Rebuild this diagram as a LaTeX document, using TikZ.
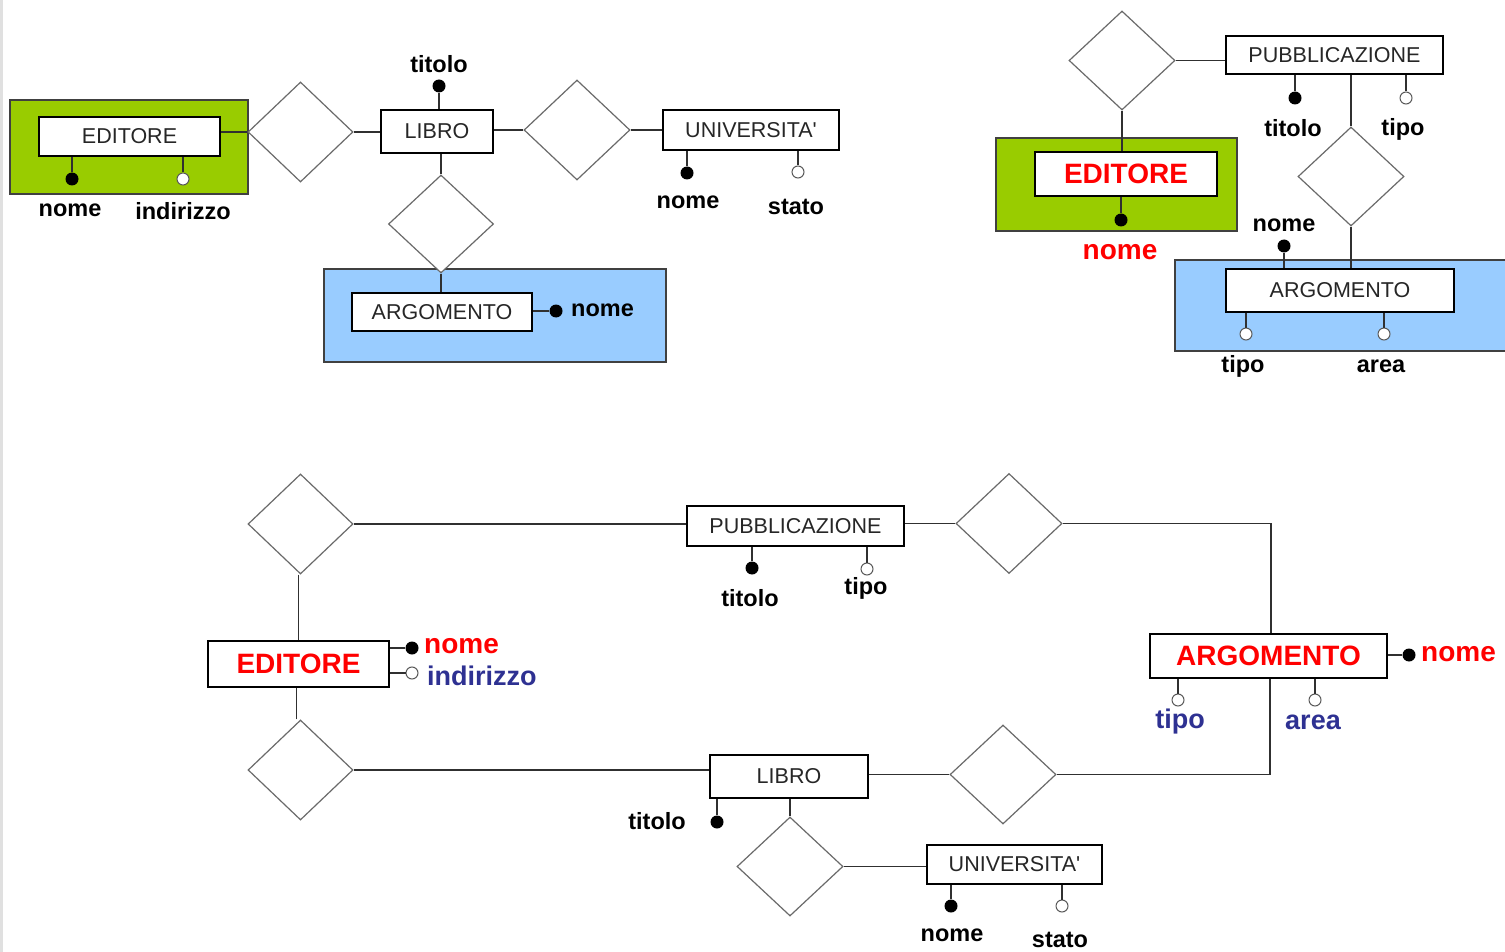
\documentclass[tikz,border=0pt]{standalone}
\usepackage{fontspec}
\setmainfont{Liberation Sans}
\usetikzlibrary{shapes.geometric}
\definecolor{grn}{HTML}{99CC00}
\definecolor{blu}{HTML}{99CCFF}
\definecolor{rd}{HTML}{FF0000}
\definecolor{nv}{HTML}{2E3192}
\definecolor{edge}{HTML}{303030}
\definecolor{relc}{HTML}{6A6A6A}
\newcommand{\univ}{UNIVERSITA\textquotesingle}
\begin{document}
\begin{tikzpicture}[x=1pt,y=-1pt,
  ent/.style={draw=black,line width=1.2pt,fill=white,inner sep=0pt,
    font=\fontsize{21.5}{24}\selectfont,text=black!85},
  strong/.style={ent,font=\fontsize{28}{32}\selectfont\bfseries,text=rd},
  rel/.style={diamond,draw=relc,line width=1.2pt,fill=white,inner sep=0pt},
  key/.style={circle,fill=black,minimum size=13pt,inner sep=0pt},
  opt/.style={circle,draw=black!65,fill=white,line width=1pt,minimum size=12pt,inner sep=0pt},
  lab/.style={font=\fontsize{23.5}{26}\selectfont\bfseries,inner sep=0pt},
  redlab/.style={font=\fontsize{28}{30}\selectfont\bfseries,text=rd,inner sep=0pt},
  bluelab/.style={font=\fontsize{27}{30}\selectfont\bfseries,text=nv,inner sep=0pt},
  conn/.style={draw=edge,line width=1.2pt},
  group/.style={draw=black!75,line width=1.3pt}]
\useasboundingbox (0,0) rectangle (1505,952);
\fill[white] (0,0) rectangle (1505,952);
\draw[black!12,line width=3pt] (1.5,0) -- (1.5,952);

% ---------- top left: EDITORE / LIBRO / ARGOMENTO / UNIVERSITA'
\filldraw[group,fill=grn] (10,100) rectangle (248,194);
\filldraw[group,fill=blu] (324,269) rectangle (666,362);

\node[ent,minimum width=181pt,minimum height=39pt] (ed1) at (129.5,136.5) {EDITORE};
\node[key] (ed1n) at (72,179) {};
\node[opt] (ed1i) at (183,179) {};
\node[lab] (ed1nl) at (70,210) {nome};
\node[lab] (ed1il) at (183,211) {indirizzo};
\draw[conn] (ed1n) -- (ed1n |- ed1.south);
\draw[conn] (ed1i) -- (ed1i |- ed1.south);

\node[rel,minimum width=105pt,minimum height=100pt] (r1) at (300.5,132) {};
\node[ent,minimum width=112pt,minimum height=43pt] (lib1) at (437,131.5) {LIBRO};
\node[key] (lib1t) at (439,86) {};
\node[lab] (lib1tl) at (439,64) {titolo};
\draw[conn] (r1.west) -- (r1.west -| ed1.east);
\draw[conn] (r1.east) -- (r1.east -| lib1.west);
\draw[conn] (lib1t) -- (lib1t |- lib1.north);

\node[rel,minimum width=105pt,minimum height=98pt] (r2) at (441,224) {};
\node[ent,minimum width=180pt,minimum height=38pt] (arg1) at (442,312) {ARGOMENTO};
\node[key] (arg1n) at (556,311) {};
\node[lab,anchor=west] (arg1nl) at (571,310) {nome};
\draw[conn] (r2.north) -- (r2.north |- lib1.south);
\draw[conn] (r2.south) -- (r2.south |- arg1.north);
\draw[conn] (arg1n) -- (arg1n -| arg1.east);

\node[rel,minimum width=106pt,minimum height=100pt] (r3) at (577,130) {};
\node[ent,minimum width=176pt,minimum height=40pt] (uni1) at (751,130) {\univ};
\node[key] (uni1n) at (687,173) {};
\node[opt] (uni1s) at (798,172) {};
\node[lab] (uni1nl) at (688,202) {nome};
\node[lab] (uni1sl) at (796,207) {stato};
\draw[conn] (r3.west) -- (r3.west -| lib1.east);
\draw[conn] (r3.east) -- (uni1.west);
\draw[conn] (uni1n) -- (uni1n |- uni1.south);
\draw[conn] (uni1s) -- (uni1s |- uni1.south);

% ---------- top right: PUBBLICAZIONE / EDITORE / ARGOMENTO
\filldraw[group,fill=grn] (996,138) rectangle (1237,231);
\filldraw[group,fill=blu] (1175,260) rectangle (1512,351);

\node[rel,minimum width=106pt,minimum height=99pt] (rA) at (1122,60.5) {};
\node[ent,minimum width=217pt,minimum height=38pt] (pub1) at (1334.5,55) {PUBBLICAZIONE};
\node[key] (pub1t) at (1295,98) {};
\node[opt] (pub1p) at (1406,98) {};
\node[lab] (pub1tl) at (1293,128) {titolo};
\node[lab] (pub1pl) at (1403,129) {tipo};
\draw[conn] (rA.east) -- (rA.east -| pub1.west);
\draw[conn] (pub1t) -- (pub1t |- pub1.south);
\draw[conn] (pub1p) -- (pub1p |- pub1.south);

\node[strong,minimum width=182pt,minimum height=44pt] (ed2) at (1126,174) {EDITORE};
\node[key] (ed2n) at (1121,220) {};
\node[redlab] (ed2nl) at (1120,252) {nome};
\draw[conn] (rA.south) -- (rA.south |- ed2.north);
\draw[conn] (ed2n) -- (ed2n |- ed2.south);

\node[rel,minimum width=106pt,minimum height=99pt] (rB) at (1351,176.5) {};
\node[ent,minimum width=228pt,minimum height=43pt] (arg2) at (1340,290.5) {ARGOMENTO};
\node[key] (arg2n) at (1284,246) {};
\node[lab] (arg2nl) at (1284,225) {nome};
\node[opt] (arg2t) at (1246,334) {};
\node[opt] (arg2a) at (1384,334) {};
\node[lab] (arg2tl) at (1243,366) {tipo};
\node[lab] (arg2al) at (1381,366) {area};
\draw[conn] (rB.north) -- (rB.north |- pub1.south);
\draw[conn] (rB.south) -- (rB.south |- arg2.north);
\draw[conn] (arg2n) -- (arg2n |- arg2.north);
\draw[conn] (arg2t) -- (arg2t |- arg2.south);
\draw[conn] (arg2a) -- (arg2a |- arg2.south);

% ---------- bottom: restructured schema
\node[rel,minimum width=105pt,minimum height=100pt] (rC) at (300.5,524) {};
\node[ent,minimum width=217pt,minimum height=40pt] (pub2) at (795.5,526) {PUBBLICAZIONE};
\node[key] (pub2t) at (752,568) {};
\node[opt] (pub2p) at (867,569) {};
\node[lab] (pub2tl) at (750,598) {titolo};
\node[lab] (pub2pl) at (866,588) {tipo};
\draw[conn] (rC.east) -- (rC.east -| pub2.west);
\draw[conn] (pub2t) -- (pub2t |- pub2.south);
\draw[conn] (pub2p) -- (pub2p |- pub2.south);

\node[rel,minimum width=106pt,minimum height=100pt] (rD) at (1009,523.5) {};
\node[strong,minimum width=237pt,minimum height=44pt] (arg3) at (1268.5,656) {ARGOMENTO};
\node[key] (arg3n) at (1409,655) {};
\node[redlab,anchor=west] (arg3nl) at (1421,654) {nome};
\node[opt] (arg3t) at (1178,700) {};
\node[opt] (arg3a) at (1315,700) {};
\node[bluelab] (arg3tl) at (1180,722) {tipo};
\node[bluelab] (arg3al) at (1313,722) {area};
\draw[conn] (rD.west) -- (rD.west -| pub2.east);
\draw[conn] (rD.east) -| ([xshift=2.5pt]arg3.north);
\draw[conn] (arg3n) -- (arg3n -| arg3.east);
\draw[conn] (arg3t) -- (arg3t |- arg3.south);
\draw[conn] (arg3a) -- (arg3a |- arg3.south);

\node[strong,minimum width=181pt,minimum height=46pt] (ed3) at (298.5,664) {EDITORE};
\node[key] (ed3n) at (412,648) {};
\node[opt] (ed3i) at (412,673) {};
\node[redlab,anchor=west] (ed3nl) at (424,646) {nome};
\node[bluelab,anchor=west] (ed3il) at (427,676) {indirizzo};
\draw[conn] ([xshift=-2pt]rC.south) -- ([xshift=-2pt]rC.south |- ed3.north);
\draw[conn] (ed3n) -- (ed3n -| ed3.east);
\draw[conn] (ed3i) -- (ed3i -| ed3.east);

\node[rel,minimum width=105pt,minimum height=100pt] (rF) at (300.5,770) {};
\node[ent,minimum width=158pt,minimum height=43pt] (lib2) at (789,776.5) {LIBRO};
\node[key] (lib2t) at (717,822) {};
\node[lab,anchor=east] (lib2tl) at (686,821) {titolo};
\draw[conn] ([xshift=-4pt]rF.north) -- ([xshift=-4pt]rF.north |- ed3.south);
\draw[conn] (rF.east) -- (rF.east -| lib2.west);
\draw[conn] (lib2t) -- (lib2t |- lib2.south);

\node[rel,minimum width=106pt,minimum height=99pt] (rE) at (1003,774.5) {};
\draw[conn] (rE.west) -- (rE.west -| lib2.east);
\draw[conn] ([xshift=1.5pt]arg3.south) |- (rE.east);

\node[rel,minimum width=106pt,minimum height=99pt] (rG) at (790,866.5) {};
\node[ent,minimum width=175pt,minimum height=39pt] (uni2) at (1014.5,864.5) {\univ};
\node[key] (uni2n) at (951,906) {};
\node[opt] (uni2s) at (1062,906) {};
\node[lab] (uni2nl) at (952,935) {nome};
\node[lab] (uni2sl) at (1060,940) {stato};
\draw[conn] (rG.north) -- (rG.north |- lib2.south);
\draw[conn] (rG.east) -- (rG.east -| uni2.west);
\draw[conn] (uni2n) -- (uni2n |- uni2.south);
\draw[conn] (uni2s) -- (uni2s |- uni2.south);
\end{tikzpicture}
\end{document}
